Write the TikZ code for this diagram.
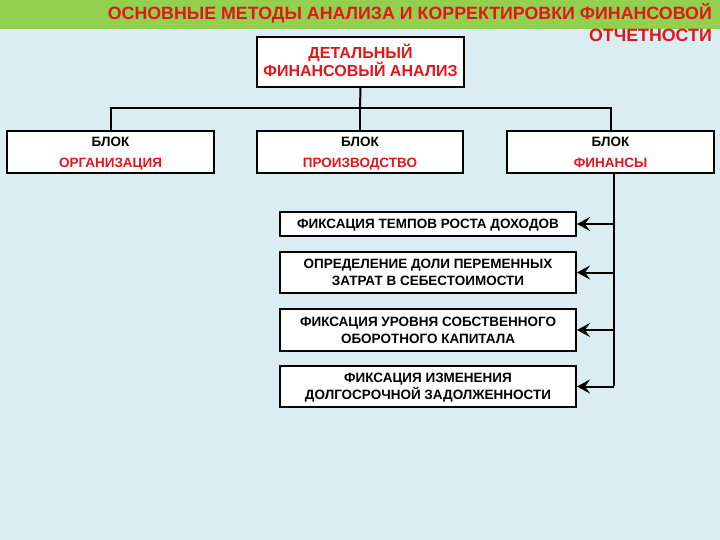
\documentclass[tikz,border=0pt]{standalone}
\usepackage{fontspec}
\setmainfont{Liberation Sans}
\usetikzlibrary{arrows.meta}
\definecolor{bgblue}{HTML}{DAEDF3}
\definecolor{bandgreen}{HTML}{92D050}
\definecolor{txtred}{HTML}{E3161B}
\newcommand\capr{\rule{0pt}{0.72em}}
\newcommand\sm[1]{\smash{#1}}
\tikzset{
  box/.style={draw=black, line width=2pt, fill=white, inner sep=0pt, align=center},
  rowbox/.style={box, minimum height=42pt, font=\bfseries\fontsize{13.5}{21}\selectfont},
  mbox/.style={box, minimum width=296pt, font=\bfseries\fontsize{13.5}{17}\selectfont},
  conn/.style={line width=2pt, draw=black},
  arr/.style={conn, -{Stealth[length=13pt,width=14pt,inset=5pt]}},
}
\begin{document}
\begin{tikzpicture}[x=1pt,y=-1pt]
\useasboundingbox (0,0) rectangle (720,540);
\fill[bgblue] (0,0) rectangle (720,540);
\fill[bandgreen] (0,0) rectangle (720,29);
\node[anchor=north east, text=txtred, font=\bfseries\fontsize{17.8}{22}\selectfont, align=right, inner sep=0pt] (title) at (712,3.5) {ОСНОВНЫЕ МЕТОДЫ АНАЛИЗА И КОРРЕКТИРОВКИ ФИНАНСОВОЙ\\ОТЧЕТНОСТИ};

\node[box, minimum width=207pt, minimum height=50pt, text=txtred, font=\bfseries\fontsize{16}{18}\selectfont] (top) at (360.5,62) {\capr\sm{ДЕТАЛЬНЫЙ}\\\sm{ФИНАНСОВЫЙ АНАЛИЗ}};

\node[rowbox, minimum width=207pt] (org) at (110.5,152) {\capr\sm{БЛОК}\\\sm{\textcolor{txtred}{ОРГАНИЗАЦИЯ}}};
\node[rowbox, minimum width=206pt] (prod) at (360,152) {\capr\sm{БЛОК}\\\sm{\textcolor{txtred}{ПРОИЗВОДСТВО}}};
\node[rowbox, minimum width=207pt] (fin) at (610.5,152) {\capr\sm{БЛОК}\\\sm{\textcolor{txtred}{ФИНАНСЫ}}};

\node[mbox, minimum height=24pt] (m1) at (428,224) {\capr\sm{ФИКСАЦИЯ ТЕМПОВ РОСТА ДОХОДОВ}};
\node[mbox, minimum height=41pt] (m2) at (428,272.5) {\capr\sm{ОПРЕДЕЛЕНИЕ ДОЛИ ПЕРЕМЕННЫХ}\\\sm{ЗАТРАТ В СЕБЕСТОИМОСТИ}};
\node[mbox, minimum height=42pt] (m3) at (428,330) {\capr\sm{ФИКСАЦИЯ УРОВНЯ СОБСТВЕННОГО}\\\sm{ОБОРОТНОГО КАПИТАЛА}};
\node[mbox, minimum height=41pt] (m4) at (428,386.5) {\capr\sm{ФИКСАЦИЯ ИЗМЕНЕНИЯ}\\\sm{ДОЛГОСРОЧНОЙ ЗАДОЛЖЕННОСТИ}};

\coordinate (hub) at (360,108);
\draw[conn] (top.south) -- (hub);
\draw[conn] (org.north) |- (hub) -| (fin.north);
\draw[conn] (hub) -- (prod.north);

\coordinate (spine) at (614,0);
\draw[conn] (fin.south -| spine) -- ([yshift=1pt]spine |- m4.east);
\draw[arr] (spine |- m1.east) -- (m1.east);
\draw[arr] (spine |- m2.east) -- (m2.east);
\draw[arr] (spine |- m3.east) -- (m3.east);
\draw[arr] (spine |- m4.east) -- (m4.east);
\end{tikzpicture}
\end{document}
